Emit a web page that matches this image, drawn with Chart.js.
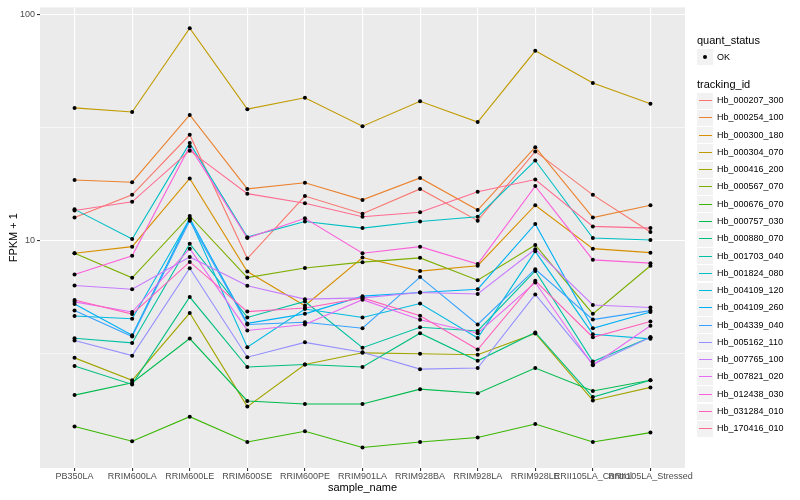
<!DOCTYPE html>
<html>
<head>
<meta charset="utf-8">
<script src="https://cdn.jsdelivr.net/npm/chart.js@4.4.1/dist/chart.umd.min.js"></script>
<style>
body { margin: 0; background: #fff; }
#wrap { position: relative; width: 800px; height: 500px; font-family: "Liberation Sans", Arial, sans-serif; }
.ttl { position: absolute; font-size: 11px; color: #000; white-space: nowrap; line-height: 13px; }
.key { position: absolute; width: 16px; height: 16px; background: #f2f2f2; }
.lab { position: absolute; font-size: 9px; color: #000; white-space: nowrap; line-height: 11px; }
</style>
</head>
<body>
<div id="wrap">
  <canvas id="fpkmChart" width="800" height="500"></canvas>
  <div id="legend"></div>
</div>
<script>
// samples on the x axis
const sampleNames = ['PB350LA', 'RRIM600LA', 'RRIM600LE', 'RRIM600SE', 'RRIM600PE', 'RRIM901LA',
  'RRIM928BA', 'RRIM928LA', 'RRIM928LE', 'RRII105LA_Control', 'RRII105LA_Stressed'];

const trackingIds = ['Hb_000207_300', 'Hb_000254_100', 'Hb_000300_180', 'Hb_000304_070', 'Hb_000416_200',
  'Hb_000567_070', 'Hb_000676_070', 'Hb_000757_030', 'Hb_000880_070', 'Hb_001703_040',
  'Hb_001824_080', 'Hb_004109_120', 'Hb_004109_260', 'Hb_004339_040', 'Hb_005162_110',
  'Hb_007765_100', 'Hb_007821_020', 'Hb_012438_030', 'Hb_031284_010', 'Hb_170416_010'];

// FPKM + 1 per transcript
const hb000207_300 = [12.7, 16.0, 29.5, 8.36, 15.8, 13.2, 17.0, 12.3, 24.9, 16.0, 10.96];
const hb000254_100 = [18.6, 18.2, 36.1, 17.0, 18.1, 15.2, 19.0, 13.7, 26.0, 12.7, 14.4];
const hb000300_180 = [8.83, 9.44, 18.9, 7.33, 5.17, 8.45, 7.36, 7.77, 14.4, 9.25, 8.88];
const hb000304_070 = [38.8, 37.2, 87.3, 38.3, 43.0, 32.2, 41.5, 33.6, 69.4, 50.0, 40.5];
const hb000416_200 = [3.04, 2.42, 4.80, 1.85, 2.84, 3.20, 3.17, 3.14, 3.90, 1.97, 2.25];
const hb000567_070 = [8.83, 6.87, 12.9, 6.89, 7.60, 8.06, 8.42, 6.71, 9.60, 4.76, 7.77];
const hb000676_070 = [1.51, 1.30, 1.67, 1.29, 1.44, 1.22, 1.29, 1.35, 1.55, 1.29, 1.42];
const hb000757_030 = [2.08, 2.36, 3.70, 1.96, 1.90, 1.90, 2.21, 2.12, 2.74, 2.17, 2.42];
const hb000880_070 = [2.80, 2.32, 5.65, 2.77, 2.84, 2.77, 3.91, 2.95, 3.94, 2.04, 2.42];
const hb001703_040 = [3.71, 3.54, 9.73, 4.59, 5.40, 3.37, 4.15, 4.00, 7.37, 2.93, 3.75];
const hb001824_080 = [13.8, 10.2, 27.1, 10.4, 12.2, 11.4, 12.2, 12.8, 22.7, 10.3, 10.1];
const hb004109_120 = [4.66, 4.53, 12.5, 3.39, 5.00, 4.59, 5.29, 3.72, 9.00, 3.87, 3.69];
const hb004109_260 = [5.26, 3.83, 12.6, 4.32, 4.76, 5.70, 5.92, 6.12, 11.9, 4.11, 4.85];
const hb004339_040 = [4.92, 3.78, 12.3, 4.27, 4.37, 4.11, 6.92, 4.27, 7.50, 4.49, 4.92];
const hb005162_110 = [3.63, 3.11, 7.58, 3.06, 3.56, 3.22, 2.71, 2.74, 5.80, 2.85, 3.75];
const hb007765_100 = [6.35, 6.12, 8.50, 6.34, 5.53, 5.60, 5.92, 5.83, 9.19, 5.21, 5.08];
const hb007821_020 = [5.38, 4.85, 9.25, 4.02, 4.27, 5.50, 4.48, 3.91, 6.55, 2.82, 4.22];
const hb012438_030 = [7.11, 8.60, 26.2, 10.3, 12.6, 8.83, 9.44, 7.90, 17.5, 8.25, 7.98];
const hb031284_010 = [5.48, 4.75, 8.08, 4.87, 5.05, 5.60, 4.67, 3.31, 6.67, 3.75, 4.40];
const hb170416_010 = [13.65, 14.9, 25.1, 16.2, 14.7, 12.8, 13.4, 16.5, 18.7, 11.6, 11.4];

const seriesValues = [hb000207_300, hb000254_100, hb000300_180, hb000304_070, hb000416_200,
  hb000567_070, hb000676_070, hb000757_030, hb000880_070, hb001703_040,
  hb001824_080, hb004109_120, hb004109_260, hb004339_040, hb005162_110,
  hb007765_100, hb007821_020, hb012438_030, hb031284_010, hb170416_010];

const seriesColors = ['#F8766D', '#EA8331', '#D89000', '#C09B00', '#A3A500', '#7CAE00', '#39B600',
  '#00BB4E', '#00BF7D', '#00C1A3', '#00BFC4', '#00BAE0', '#00B0F6', '#35A2FF', '#9590FF',
  '#C77CFF', '#E76BF3', '#FA62DB', '#FF62BC', '#FF6C91'];

const yTicks = [3.1623, 10, 31.623, 100];
const yLabelled = [10, 100];

const fontFamily = '"Liberation Sans", Arial, sans-serif';

// one line per transcript, later ones on top (like ggplot)
const datasets = seriesValues.map((vals, i) => ({
  type: 'line',
  label: trackingIds[i],
  data: vals.map((v, j) => ({ x: j, y: v })),
  borderColor: seriesColors[i],
  backgroundColor: seriesColors[i],
  borderWidth: 1.1,
  pointRadius: 0,
  tension: 0,
  order: seriesValues.length - i
}));

// quant_status points drawn last
const okPoints = [];
seriesValues.forEach(vals => vals.forEach((v, j) => okPoints.push({ x: j, y: v })));
datasets.push({
  type: 'scatter',
  label: 'OK',
  data: okPoints,
  pointRadius: 2,
  pointHoverRadius: 2,
  pointBackgroundColor: '#000',
  pointBorderWidth: 0,
  order: 0
});

const panelBg = {
  id: 'panelBg',
  beforeDraw(chart) {
    const { ctx, chartArea: a } = chart;
    ctx.save();
    ctx.fillStyle = '#EBEBEB';
    ctx.fillRect(a.left, a.top, a.right - a.left, a.bottom - a.top);
    ctx.restore();
  }
};

const ctx = document.getElementById('fpkmChart').getContext('2d');
const fpkmChart = new Chart(ctx, {
  data: { datasets: datasets },
  options: {
    responsive: false,
    animation: false,
    layout: { padding: { top: 5, right: 115, left: 0, bottom: 0 } },
    plugins: { legend: { display: false }, tooltip: { enabled: false } },
    scales: {
      x: {
        type: 'linear',
        min: -0.6,
        max: 10.6,
        afterBuildTicks: (scale) => { scale.ticks = sampleNames.map((n, i) => ({ value: i })); },
        afterFit: (scale) => { scale.height = 32; },
        ticks: {
          autoSkip: false,
          maxRotation: 0,
          padding: 0,
          color: '#4D4D4D',
          font: { family: fontFamily, size: 9 },
          callback: (v) => sampleNames[v]
        },
        grid: { color: '#FFFFFF', lineWidth: 1.1, tickLength: 3, tickColor: '#333333' },
        border: { display: false },
        title: { display: true, text: 'sample_name', color: '#000', font: { family: fontFamily, size: 11 }, padding: { top: 0, bottom: 5 } }
      },
      y: {
        type: 'logarithmic',
        min: 0.99,
        max: 108,
        afterBuildTicks: (scale) => { scale.ticks = yTicks.map(v => ({ value: v })); },
        afterFit: (scale) => { scale.width = 40; },
        ticks: {
          padding: 2,
          color: '#4D4D4D',
          font: { family: fontFamily, size: 9 },
          callback: (v) => yLabelled.includes(v) ? String(v) : ''
        },
        grid: {
          color: '#FFFFFF',
          lineWidth: (c) => yLabelled.includes(c.tick.value) ? 1.1 : 0.55,
          tickLength: 3,
          tickColor: (c) => yLabelled.includes(c.tick.value) ? '#333333' : 'rgba(0,0,0,0)'
        },
        border: { display: false },
        title: { display: true, text: 'FPKM + 1', color: '#000', font: { family: fontFamily, size: 11 }, padding: { top: 7, bottom: 0 } }
      }
    }
  },
  plugins: [panelBg]
});

// ggplot-style legend on the right
const legend = document.getElementById('legend');
function addEl(cls, left, top, text) {
  const el = document.createElement('div');
  el.className = cls;
  el.style.left = left + 'px';
  el.style.top = top + 'px';
  if (text) el.textContent = text;
  legend.appendChild(el);
  return el;
}

addEl('ttl', 697, 34, 'quant_status');
const okKey = addEl('key', 697, 49);
const dot = document.createElement('div');
dot.style.cssText = 'position:absolute;left:6px;top:6px;width:4px;height:4px;border-radius:50%;background:#000;';
okKey.appendChild(dot);
addEl('lab', 717, 51.5, 'OK');

addEl('ttl', 697, 77.5, 'tracking_id');
const rowStep = 17.28;
trackingIds.forEach((id, i) => {
  const top = 92.5 + i * rowStep;
  const key = addEl('key', 697, top);
  const ln = document.createElement('div');
  ln.style.cssText = 'position:absolute;left:1.5px;right:1.5px;top:7.5px;height:1px;background:' + seriesColors[i] + ';';
  key.appendChild(ln);
  addEl('lab', 717, top + 2.5, id);
});
</script>
</body>
</html>
